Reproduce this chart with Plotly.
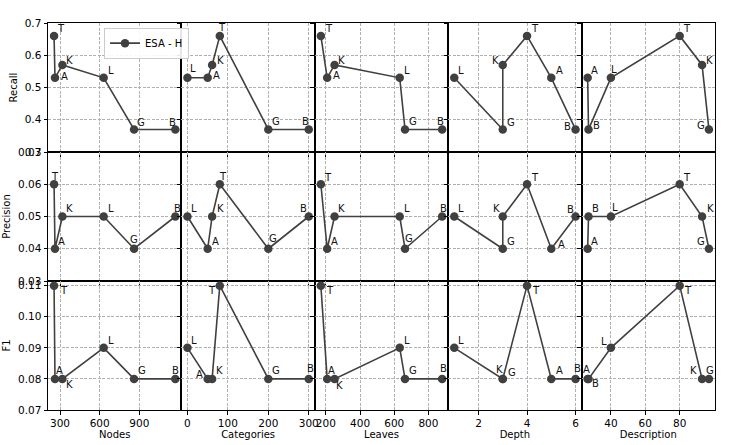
import plotly.graph_objects as go
from plotly.subplots import make_subplots

# ---------------- data ----------------
methods = ["T", "A", "G", "K", "L", "B"]

nodes = [255, 262, 860, 318, 630, 1172]
categories = [80, 50, 200, 61, 0, 300]
leaves = [171, 208, 663, 251, 632, 880]
depth = [4, 5, 3, 3, 1, 6]
description = [80, 26.5, 97, 93, 40, 27]

recall = [0.66, 0.53, 0.37, 0.57, 0.53, 0.37]
precision = [0.06, 0.04, 0.04, 0.05, 0.05, 0.05]
f1 = [0.11, 0.08, 0.08, 0.08, 0.09, 0.08]

feature_names = ["Nodes", "Categories", "Leaves", "Depth", "Description"]
metric_names = ["Recall", "Precision", "F1"]
series_name = "ESA - H"

x_tickvals = [[300, 600, 900], [0, 100, 200, 300], [200, 400, 600, 800], [2, 4, 6], [40, 60, 80]]
y_tickvals = [[0.3, 0.4, 0.5, 0.6, 0.7],
              [0.03, 0.04, 0.05, 0.06, 0.07],
              [0.07, 0.08, 0.09, 0.10, 0.11]]

# ---------------- styling ----------------
features = [nodes, categories, leaves, depth, description]
metrics = [recall, precision, f1]
y_ranges = [[0.3, 0.7], [0.03, 0.07], [0.07, 0.11 + 0.05 * 0.03]]
y_formats = [".1f", ".2f", ".2f"]

# label offsets in px (dx right, dy down) per (row, col)
label_offsets = {
    (0, 0): {"T": (7, -7), "A": (10, -1), "K": (7, -4), "L": (7, -7), "G": (7, -7), "B": (-3, -7)},
    (0, 1): {"L": (6, -9), "A": (9, -2), "K": (8, -4), "T": (2, -8), "G": (8, -8), "B": (-3, -8)},
    (0, 2): {"T": (8, -7), "A": (9, -2), "K": (7, -4), "L": (7, -7), "G": (8, -8), "B": (-2, -8)},
    (0, 3): {"L": (7, -7), "K": (-7, -4), "G": (8, -7), "T": (8, -7), "A": (8, -7), "B": (-8, -3)},
    (0, 4): {"A": (7, -7), "B": (8, -4), "L": (3, -8), "T": (7, -7), "K": (7, -4), "G": (-8, -4)},
    (1, 0): {"T": (1, -8), "A": (7, -7), "K": (7, -8), "L": (7, -8), "G": (0, -9), "B": (2, -8)},
    (1, 1): {"L": (7, -8), "A": (8, -7), "K": (8, -8), "T": (3, -8), "G": (5, -10), "B": (-5, -8)},
    (1, 2): {"T": (7, -7), "A": (7, -7), "K": (7, -8), "L": (7, -8), "G": (4, -10), "B": (1, -8)},
    (1, 3): {"L": (7, -8), "K": (-6, -8), "G": (8, -7), "T": (8, -7), "A": (10, -4), "B": (-5, -7)},
    (1, 4): {"A": (7, -7), "B": (7, -8), "L": (4, -9), "T": (7, -7), "K": (8, -8), "G": (-8, -7)},
    (2, 0): {"T": (10, 5), "A": (5, -8), "K": (7, 6), "L": (7, -7), "G": (8, -8), "B": (0, -8)},
    (2, 1): {"L": (7, -7), "A": (-8, -4), "K": (7, -8), "T": (-8, 5), "G": (8, -8), "B": (2, -10)},
    (2, 2): {"T": (9, 5), "A": (4, -8), "K": (5, 7), "L": (7, -7), "G": (8, -8), "B": (1, -10)},
    (2, 3): {"L": (7, -7), "K": (-3, -9), "G": (9, -6), "T": (9, 5), "A": (8, -8), "B": (2, -10)},
    (2, 4): {"A": (-1, -9), "B": (7, 5), "L": (-7, -6), "T": (8, 5), "K": (-9, -8), "G": (1, -8)},
}

FONT = "DejaVu Sans"
LINE_COLOR = "#404040"
GRID_COLOR = "#b0b0b0"

fig = make_subplots(rows=3, cols=5, horizontal_spacing=0, vertical_spacing=0)

annotations = []
for r, metric in enumerate(metrics):
    for c, feat in enumerate(features):
        order = sorted(range(len(methods)), key=lambda i: (feat[i], i))
        xs = [feat[i] for i in order]
        ys = [metric[i] for i in order]
        fig.add_trace(
            go.Scatter(
                x=xs, y=ys, mode="lines+markers",
                name=series_name,
                showlegend=(r == 0 and c == 0),
                line=dict(color=LINE_COLOR, width=1.6),
                marker=dict(color=LINE_COLOR, size=8.5),
                hoverinfo="skip",
            ),
            row=r + 1, col=c + 1,
        )
        idx = r * 5 + c + 1
        suffix = "" if idx == 1 else str(idx)
        offs = label_offsets[(r, c)]
        for i in order:
            dx, dy = offs[methods[i]]
            annotations.append(dict(
                x=feat[i], y=metric[i], xref="x" + suffix, yref="y" + suffix,
                text=methods[i], showarrow=False, xshift=dx, yshift=-dy,
                font=dict(family=FONT, size=10, color="#111111"),
            ))

for c, feat in enumerate(features):
    lo, hi = min(feat), max(feat)
    pad = 0.05 * (hi - lo)
    for r in range(3):
        fig.update_xaxes(
            range=[lo - pad, hi + pad], tickvals=x_tickvals[c],
            showticklabels=(r == 2),
            title=dict(text=feature_names[c] if r == 2 else None,
                       font=dict(family=FONT, size=10, color="black"), standoff=2),
            row=r + 1, col=c + 1,
        )

for r in range(3):
    for c in range(5):
        fig.update_yaxes(
            range=y_ranges[r], tickvals=y_tickvals[r], tickformat=y_formats[r],
            showticklabels=(c == 0),
            title=dict(text=metric_names[r] if c == 0 else None,
                       font=dict(family=FONT, size=10, color="black"), standoff=5),
            row=r + 1, col=c + 1,
        )

axis_style = dict(
    showline=True, linecolor="black", linewidth=1, mirror=True,
    ticks="outside", ticklen=3.5, tickwidth=0.8, tickcolor="black",
    showgrid=True, gridcolor=GRID_COLOR, gridwidth=0.8, griddash="3px,1.5px",
    zeroline=False, automargin=False,
    tickfont=dict(family=FONT, size=10.5, color="black"),
)
fig.update_xaxes(**axis_style)
fig.update_yaxes(**axis_style)

fig.update_layout(
    width=747, height=445,
    margin=dict(l=48, r=32, t=23, b=35),
    paper_bgcolor="white", plot_bgcolor="white",
    font=dict(family=FONT, size=10, color="black"),
    annotations=annotations,
    legend=dict(
        x=0.084, y=0.988, xanchor="left", yanchor="top",
        xref="paper", yref="paper",
        bgcolor="rgba(255,255,255,0.9)", bordercolor="#cccccc", borderwidth=1,
        font=dict(family=FONT, size=10, color="black"),
        itemwidth=30, tracegroupgap=0,
    ),
    showlegend=True,
)

fig.write_html("out.html", config={"displayModeBar": False},
               post_script="document.body.style.margin='0px';")
